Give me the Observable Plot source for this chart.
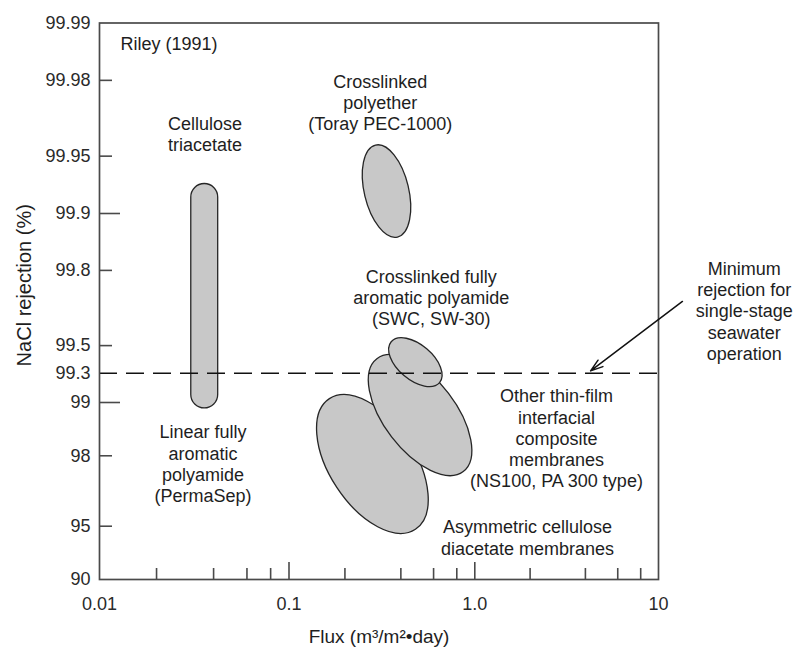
<!DOCTYPE html>
<html>
<head>
<meta charset="utf-8">
<script src="https://cdn.jsdelivr.net/npm/d3@7"></script>
<script src="https://cdn.jsdelivr.net/npm/@observablehq/plot@0.6"></script>
<style>
  html, body { margin: 0; padding: 0; background: #ffffff; }
  #chart { width: 798px; height: 648px; }
</style>
</head>
<body>
<div id="chart"></div>
<script>
// ---------------- data ----------------
// x axis: flux (m3/m2·day), log scale
const xTickValues = [0.01, 0.1, 1, 10];
const xTickLabels = ["0.01", "0.1", "1.0", "10"];
const xMajorTicks = [0.1, 1];
const xMinorTicks = [0.02, 0.04, 0.06, 0.08, 0.2, 0.4, 0.6, 0.8, 2, 4, 6, 8];

// y axis: NaCl rejection (%), plotted as log of (100 - rejection)
const yTickRejection = [99.99, 99.98, 99.95, 99.9, 99.8, 99.5, 99.3, 99, 98, 95, 90];
const yTickLabels = ["99.99", "99.98", "99.95", "99.9", "99.8", "99.5", "99.3", "99", "98", "95", "90"];
const yMajorRejection = [99.9, 99];
const yMinorRejection = [99.98, 99.95, 99.8, 99.5, 98, 95];

// elliptical performance regions: ends of the long axis (flux, rejection) and width ratio
const regionNames = [
  "Asymmetric cellulose diacetate membranes",
  "Other thin-film interfacial composite membranes",
  "Crosslinked fully aromatic polyamide",
  "Crosslinked polyether"
];
const regionFluxA = [0.166, 0.299, 0.357, 0.294];
const regionRejA = [99.04, 99.41, 99.52, 99.956];
const regionFluxB = [0.482, 0.872, 0.65, 0.386];
const regionRejB = [94.76, 97.53, 99.21, 99.866];
const regionWidthRatio = [0.545, 0.505, 0.555, 0.47];

// cellulose triacetate / linear aromatic polyamide band
const bandFlux = [0.0305, 0.0423];
const bandRejection = [98.92, 99.93];

// minimum rejection for single-stage seawater operation
const minimumRejection = [99.3];

// annotations
const labelTexts = [
  "Cellulose\ntriacetate",
  "Crosslinked\npolyether\n(Toray PEC-1000)",
  "Crosslinked fully\naromatic polyamide\n(SWC, SW-30)",
  "Minimum\nrejection for\nsingle-stage\nseawater\noperation",
  "Other thin-film\ninterfacial\ncomposite\nmembranes\n(NS100, PA 300 type)",
  "Asymmetric cellulose\ndiacetate membranes",
  "Linear fully\naromatic\npolyamide\n(PermaSep)"
];
const labelFlux = [0.036, 0.31, 0.583, 29.3, 2.785, 1.936, 0.0352];
const labelRejection = [99.962, 99.974, 99.722, 99.674, 98.414, 94.23, 97.79];

const sourceText = ["Riley (1991)"];
const sourceFlux = [0.0129];
const sourceRejection = [99.987];

const arrowFlux = [13.5, 4.27];
const arrowRejection = [99.708, 99.32];

const xTitle = "Flux (m³/m²•day)";
const yTitle = "NaCl rejection (%)";

// ---------------- helpers ----------------
const loss = (r) => +(100 - r).toFixed(6);
const yTicks = yTickRejection.map((r, i) => ({v: loss(r), t: yTickLabels[i]}));
const xTicks = xTickValues.map((v, i) => ({v, t: xTickLabels[i]}));

const regions = regionNames.map((name, i) => ({
  name, fa: regionFluxA[i], ra: regionRejA[i], fb: regionFluxB[i], rb: regionRejB[i], k: regionWidthRatio[i]
}));
const band = [{x1: bandFlux[0], x2: bandFlux[1], y1: loss(bandRejection[0]), y2: loss(bandRejection[1])}];
const labels = labelTexts.map((t, i) => ({t, x: labelFlux[i], y: loss(labelRejection[i])}));
const source = sourceText.map((t, i) => ({t, x: sourceFlux[i], y: loss(sourceRejection[i])}));
const arrowData = [{x1: arrowFlux[0], y1: loss(arrowRejection[0]), x2: arrowFlux[1], y2: loss(arrowRejection[1])}];

const FILL = "#c8c8c8";
const OUTLINE = "#262626";
const AXIS = "#4a4a4a";
const TEXT = "#1e1e1e";

// ellipse mark drawn through Plot's own x / y scales
function ellipses(index, scales) {
  const g = d3.create("svg:g").attr("fill", FILL).attr("stroke", OUTLINE).attr("stroke-width", 1.3);
  for (const d of regions) {
    const xa = scales.x(d.fa), ya = scales.y(loss(d.ra));
    const xb = scales.x(d.fb), yb = scales.y(loss(d.rb));
    const cx = (xa + xb) / 2, cy = (ya + yb) / 2;
    const a = Math.hypot(xb - xa, yb - ya) / 2;
    const b = a * d.k;
    const ang = Math.atan2(yb - ya, xb - xa) * 180 / Math.PI;
    g.append("ellipse")
      .attr("cx", cx).attr("cy", cy).attr("rx", a).attr("ry", b)
      .attr("transform", `rotate(${ang},${cx},${cy})`)
      .append("title").text(d.name);
  }
  return g.node();
}

const chart = Plot.plot({
  width: 798,
  height: 648,
  marginLeft: 99,
  marginRight: 140,
  marginTop: 22.5,
  marginBottom: 69,
  style: {
    fontFamily: "'Liberation Sans', Arial, Helvetica, sans-serif",
    fontSize: "18px",
    color: TEXT,
    background: "#ffffff",
    overflow: "visible"
  },
  x: {type: "log", domain: [0.01, 0.1, 1, 10], range: [99, 288.5, 474.3, 658], axis: null},
  y: {type: "log", domain: [0.01, 0.1, 1, 10], range: [22.5, 213, 402, 579], axis: null},
  marks: [
    Plot.rect(band, {x1: "x1", x2: "x2", y1: "y1", y2: "y2", rx: 13.5, fill: FILL, stroke: OUTLINE, strokeWidth: 1.3}),
    ellipses,
    Plot.ruleY(minimumRejection, {y: (d) => loss(d), stroke: "#111", strokeWidth: 1.5, strokeDasharray: "18,9"}),
    Plot.frame({stroke: AXIS, strokeWidth: 1.7}),
    // inward tick marks
    Plot.axisY({anchor: "left", ticks: yMajorRejection.map(loss), tickSize: -21, fill: "none", label: null, stroke: AXIS, strokeWidth: 1.6}),
    Plot.axisY({anchor: "left", ticks: yMinorRejection.map(loss), tickSize: -13, fill: "none", label: null, stroke: AXIS, strokeWidth: 1.6}),
    Plot.axisX({anchor: "bottom", ticks: xMajorTicks, tickSize: -17, fill: "none", label: null, stroke: AXIS, strokeWidth: 1.6}),
    Plot.axisX({anchor: "bottom", ticks: xMinorTicks, tickSize: -11, fill: "none", label: null, stroke: AXIS, strokeWidth: 1.6}),
    // tick labels
    Plot.text(yTicks, {y: "v", text: "t", frameAnchor: "left", textAnchor: "end", lineAnchor: "middle", dx: -9, fontSize: 18, fill: "#2a2a2a"}),
    Plot.text(xTicks, {x: "v", text: "t", frameAnchor: "bottom", textAnchor: "middle", lineAnchor: "top", dy: 18, fontSize: 18, fill: "#2a2a2a"}),
    // axis titles
    Plot.text([yTitle], {frameAnchor: "left", textAnchor: "middle", lineAnchor: "middle", rotate: -90, dx: -75, dy: -16, fontSize: 20, fill: TEXT}),
    Plot.text([xTitle], {frameAnchor: "bottom", textAnchor: "middle", lineAnchor: "middle", dy: 57, fontSize: 19, fill: TEXT}),
    // annotations
    Plot.text(labels, {x: "x", y: "y", text: "t", textAnchor: "middle", lineAnchor: "middle", lineHeight: 1.18, fontSize: 18, fill: TEXT}),
    Plot.text(source, {x: "x", y: "y", text: "t", textAnchor: "start", fontSize: 18, fill: TEXT}),
    Plot.arrow(arrowData, {x1: "x1", y1: "y1", x2: "x2", y2: "y2", stroke: "#111", strokeWidth: 1.5, headLength: 13, headAngle: 36})
  ]
});

document.getElementById("chart").appendChild(chart);
</script>
</body>
</html>
